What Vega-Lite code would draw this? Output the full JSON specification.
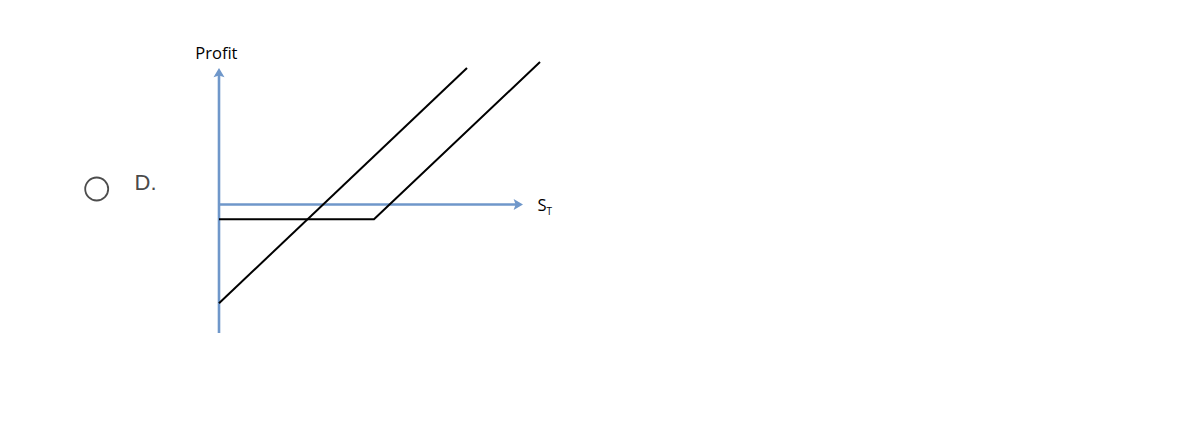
{
  "$schema": "https://vega.github.io/schema/vega-lite/v6.json",
  "width": 1204,
  "height": 438,
  "autosize": {"type": "fit", "contains": "padding"},
  "padding": 0,
  "background": "white",
  "view": {"stroke": null},
  "datasets": {
    "payoff": [
      {"series": "A", "ord": 1, "s": 0, "profit": -9.88},
      {"series": "A", "ord": 2, "s": 24.8, "profit": 13.65},
      {"series": "B", "ord": 1, "s": 0, "profit": -1.48},
      {"series": "B", "ord": 2, "s": 15.5, "profit": -1.48},
      {"series": "B", "ord": 3, "s": 32.1, "profit": 14.25}
    ],
    "axes": [
      {"axis": "profit", "ord": 1, "s": 0, "profit": -12.85},
      {"axis": "profit", "ord": 2, "s": 0, "profit": 13.0},
      {"axis": "st", "ord": 1, "s": -0.1, "profit": 0},
      {"axis": "st", "ord": 2, "s": 30.0, "profit": 0}
    ]
  },
  "encoding": {
    "x": {"field": "s", "type": "quantitative", "scale": {"domain": [-21.9, 98.5], "nice": false, "zero": false}, "axis": null},
    "y": {"field": "profit", "type": "quantitative", "scale": {"domain": [-23.35, 20.45], "nice": false, "zero": false}, "axis": null}
  },
  "layer": [
    {
      "data": {"name": "axes"},
      "mark": {"type": "line", "color": "#6f97ca", "strokeWidth": 2.6, "strokeCap": "butt"},
      "encoding": {"detail": {"field": "axis"}, "order": {"field": "ord"}}
    },
    {
      "data": {"values": [{"s": 0, "profit": 13.1}]},
      "mark": {"type": "point", "shape": "M0,-1 L1,0.7 L0,0.35 L-1,0.7 Z", "size": 121, "filled": true, "color": "#6f97ca", "opacity": 1}
    },
    {
      "data": {"values": [{"s": 29.85, "profit": 0}]},
      "mark": {"type": "point", "shape": "M1,0 L-0.7,-1 L-0.35,0 L-0.7,1 Z", "size": 121, "filled": true, "color": "#6f97ca", "opacity": 1}
    },
    {
      "data": {"name": "payoff"},
      "mark": {"type": "line", "color": "black", "strokeWidth": 2, "strokeCap": "butt"},
      "encoding": {"detail": {"field": "series"}, "order": {"field": "ord"}}
    },
    {
      "data": {"values": [{"s": -0.26, "profit": 14.55, "label": "Profit"}]},
      "mark": {"type": "text", "font": "Open Sans", "fontSize": 16.5, "fontWeight": 500, "color": "#000", "align": "center", "baseline": "alphabetic"},
      "encoding": {"text": {"field": "label"}}
    },
    {
      "data": {"values": [{"s": 31.85, "profit": -0.6, "label": "S"}]},
      "mark": {"type": "text", "font": "Open Sans", "fontSize": 16.5, "fontWeight": 500, "color": "#000", "align": "left", "baseline": "alphabetic"},
      "encoding": {"text": {"field": "label"}}
    },
    {
      "data": {"values": [{"s": 32.75, "profit": -1.0, "label": "T"}]},
      "mark": {"type": "text", "font": "Open Sans", "fontSize": 10, "color": "#000", "align": "left", "baseline": "alphabetic"},
      "encoding": {"text": {"field": "label"}}
    },
    {
      "data": {"values": [{"s": -12.23, "profit": 1.55}]},
      "mark": {"type": "point", "shape": "circle", "size": 529, "filled": false, "stroke": "#4d4d4d", "strokeWidth": 1.8, "opacity": 1}
    },
    {
      "data": {"values": [{"s": -8.45, "profit": 1.45, "label": "D."}]},
      "mark": {"type": "text", "font": "Liberation Sans", "fontSize": 22, "color": "#4a4a4a", "align": "left", "baseline": "alphabetic"},
      "encoding": {"text": {"field": "label"}}
    }
  ]
}
